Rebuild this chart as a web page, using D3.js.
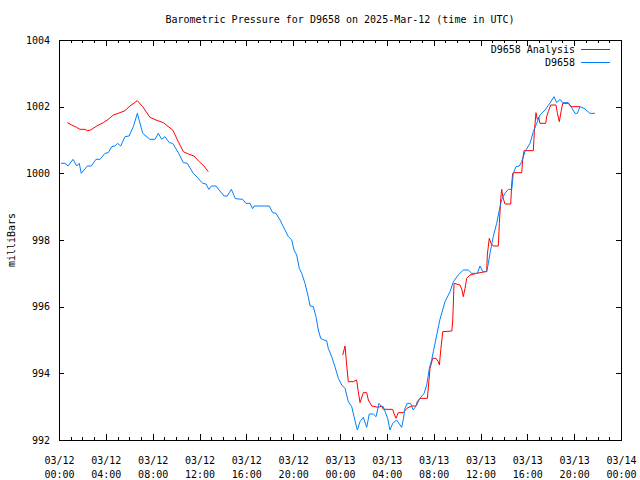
<!DOCTYPE html>
<html><head><meta charset="utf-8">
<script src="https://cdn.jsdelivr.net/npm/d3@7"></script>
<style>
body{margin:0;background:#fff;}
svg text{font-family:"DejaVu Sans Mono","Liberation Mono",monospace;font-size:10px;fill:#000;}
</style></head>
<body><svg id="c" width="640" height="480"></svg>
<script>
const titleText = "Barometric Pressure for D9658 on 2025-Mar-12 (time in UTC)";
const yLabel = "milliBars";
const yTicks = [992, 994, 996, 998, 1000, 1002, 1004];
const seriesNames = ["D9658 Analysis", "D9658"];
const seriesColors = ["#ff0000", "#0080ff"];

// hours after 2025-03-12 00:00 UTC
const obsHours = [0.17,0.51,0.77,1.20,1.51,1.73,1.90,2.42,2.76,3.16,3.50,3.93,4.21,4.50,4.78,5.01,5.27,5.64,5.98,6.35,6.69,6.92,7.15,7.77,8.20,8.48,8.77,9.05,9.42,9.71,10.19,10.62,10.96,11.47,11.81,12.27,12.56,12.79,13.01,13.41,14.09,14.37,14.72,15.06,15.69,15.97,16.31,16.54,16.66,17.96,18.25,18.53,18.88,19.30,19.59,19.88,20.07,20.30,20.52,20.73,21.01,21.29,21.44,21.72,21.95,22.15,22.35,22.63,22.86,23.00,23.29,23.57,23.86,24.15,24.43,24.71,25.00,25.20,25.48,25.71,25.99,26.28,26.50,26.84,27.08,27.33,27.56,27.70,27.93,28.07,28.27,28.50,28.84,29.27,29.41,29.55,29.74,30.03,30.25,30.55,30.83,31.18,31.41,31.63,31.83,31.97,32.26,32.54,32.97,33.40,33.68,34.10,34.53,34.96,35.25,35.73,35.96,36.19,36.53,36.67,36.81,37.09,37.38,37.61,37.81,38.09,38.38,38.67,38.80,39.03,39.32,39.52,39.80,40.23,40.51,40.80,41.08,41.51,41.88,42.28,42.51,42.79,43.02,43.50,43.71,44.07,44.27,44.50,44.84,45.35,45.78];
const obsPressure = [1000.30,1000.30,1000.22,1000.42,1000.22,1000.30,1000.00,1000.22,1000.22,1000.42,1000.42,1000.60,1000.62,1000.80,1000.82,1000.90,1000.82,1001.10,1001.12,1001.40,1001.80,1001.50,1001.20,1001.02,1001.02,1001.20,1001.02,1001.10,1000.92,1000.90,1000.62,1000.32,1000.30,1000.00,999.88,999.70,999.68,999.52,999.62,999.62,999.32,999.32,999.52,999.24,999.22,999.10,999.10,998.94,999.02,999.02,998.82,998.80,998.60,998.30,998.10,998.00,997.70,997.55,997.15,997.00,996.70,996.30,996.02,996.00,995.70,995.30,995.05,995.00,994.98,994.75,994.50,994.20,993.85,993.65,993.55,993.15,993.00,992.70,992.30,992.55,992.68,992.38,992.78,992.78,992.70,993.10,993.00,993.00,992.78,992.65,992.30,992.50,992.60,992.38,992.62,992.95,993.10,993.10,992.90,993.05,993.25,993.40,993.65,994.15,994.40,994.65,995.15,995.62,996.15,996.45,996.75,996.95,997.10,997.10,997.00,997.00,997.22,997.05,997.05,997.30,997.60,998.10,998.50,998.90,999.22,999.40,999.52,999.52,1000.00,1000.20,1000.22,1000.35,1000.65,1000.90,1001.25,1001.50,1001.75,1001.90,1002.08,1002.30,1002.12,1002.22,1002.12,1002.12,1002.02,1001.80,1001.80,1002.00,1001.95,1001.80,1001.80];

// analysis: two separate segments
const anaHours1 = [0.71,1.08,1.51,1.79,2.22,2.42,2.71,3.22,3.78,4.21,4.64,5.06,5.64,6.06,6.69,7.15,7.77,8.28,8.91,9.71,10.19,10.62,11.04,11.53,11.98,12.38,12.75];
const anaPressure1 = [1001.52,1001.45,1001.38,1001.32,1001.32,1001.28,1001.30,1001.42,1001.52,1001.62,1001.75,1001.80,1001.88,1002.02,1002.18,1002.00,1001.68,1001.60,1001.52,1001.30,1000.95,1000.65,1000.58,1000.52,1000.35,1000.22,1000.05];
const anaHours2 = [24.23,24.43,24.57,24.71,25.13,25.42,25.56,25.71,25.99,26.28,26.42,26.71,27.27,27.56,27.70,28.50,28.61,28.78,28.98,29.41,29.70,30.12,30.49,30.60,30.83,31.46,31.58,31.69,31.92,32.20,32.40,32.49,32.61,32.78,33.55,33.63,33.74,34.25,34.42,34.53,34.68,34.82,35.10,35.68,35.96,36.41,36.53,36.58,36.75,36.90,37.09,37.52,37.61,37.73,37.81,37.90,38.09,38.58,38.67,38.75,38.86,39.52,39.60,39.72,40.51,40.60,40.74,40.85,40.97,41.08,41.57,41.65,41.79,42.00,42.45,42.56,42.73,42.88,43.02,43.50,43.71,44.50];
const anaPressure2 = [994.55,994.82,994.25,993.75,993.75,993.80,993.45,993.12,993.42,993.42,993.20,993.02,992.98,993.02,992.92,992.92,992.80,992.65,992.82,992.82,992.95,993.02,993.02,993.15,993.25,993.25,993.72,994.15,994.45,994.45,994.35,994.25,994.72,995.25,995.27,995.60,996.70,996.65,996.50,996.30,996.55,996.85,996.95,997.00,997.02,997.05,997.05,997.55,998.05,997.90,997.82,997.82,998.50,999.25,999.52,999.30,999.08,999.08,999.70,1000.00,1000.02,1000.02,1000.40,1000.68,1000.68,1001.25,1001.82,1001.62,1001.68,1001.50,1001.50,1001.70,1001.85,1002.05,1002.05,1001.82,1001.55,1001.85,1002.10,1002.10,1002.00,1002.00];

const t0 = Date.UTC(2025, 2, 12, 0, 0);
const toDate = h => new Date(t0 + h * 3600000);

const svg = d3.select("#c");
const L = 59, R = 621, T = 40, B = 440;

const x = d3.scaleUtc().domain([toDate(0), toDate(48)]).range([L, R]);
const y = d3.scaleLinear().domain([992, 1004]).range([B, T]);

const majorTicks = d3.utcHour.every(4).range(toDate(0), toDate(48.01));
const minorTicks = d3.utcHour.every(1).range(toDate(0), toDate(48.01));

svg.append("g").attr("transform", `translate(0,${B})`)
  .call(d3.axisBottom(x).tickValues(minorTicks).tickSize(-3).tickFormat(""))
  .call(g => g.select(".domain").remove());
svg.append("g").attr("transform", `translate(0,${T})`)
  .call(d3.axisTop(x).tickValues(minorTicks).tickSize(-3).tickFormat(""))
  .call(g => g.select(".domain").remove());
const fmtD = d3.utcFormat("%m/%d"), fmtT = d3.utcFormat("%H:%M");
const xb = svg.append("g").attr("transform", `translate(0,${B})`)
  .call(d3.axisBottom(x).tickValues(majorTicks).tickSize(-6).tickPadding(14).tickFormat(""))
  .call(g => g.select(".domain").remove());
xb.selectAll(".tick text").each(function(d){
  const t = d3.select(this).attr("y", null).attr("dy", null);
  t.append("tspan").attr("x", 0).attr("y", 24).text(fmtD(d));
  t.append("tspan").attr("x", 0).attr("y", 38).text(fmtT(d));
});
svg.append("g").attr("transform", `translate(0,${T})`)
  .call(d3.axisTop(x).tickValues(majorTicks).tickSize(-6).tickFormat(""))
  .call(g => g.select(".domain").remove());

svg.append("g").attr("transform", `translate(${L},0)`)
  .call(d3.axisLeft(y).tickValues(yTicks).tickSize(-5).tickPadding(9).tickFormat(d3.format("d")))
  .call(g => g.select(".domain").remove());
svg.append("g").attr("transform", `translate(${R},0)`)
  .call(d3.axisRight(y).tickValues(yTicks).tickSize(-5).tickFormat(""))
  .call(g => g.select(".domain").remove());

svg.selectAll(".tick line").attr("stroke", "#000").attr("shape-rendering", "crispEdges");
svg.selectAll(".tick text").style("font-family", '"DejaVu Sans Mono","Liberation Mono",monospace').style("font-size", "10px").attr("fill", "#000");

svg.append("rect").attr("x", L).attr("y", T).attr("width", R - L).attr("height", B - T)
  .attr("fill", "none").attr("stroke", "#000").attr("shape-rendering", "crispEdges");

svg.append("text").attr("x", (L + R) / 2).attr("y", 23).attr("text-anchor", "middle").text(titleText);
svg.append("text").attr("transform", `translate(15,${(T + B) / 2}) rotate(-90)`)
  .attr("text-anchor", "middle").text(yLabel);

const line = d3.line().x(d => x(toDate(d[0]))).y(d => y(d[1]));
const zipP = (a, b) => a.map((h, i) => [h, b[i]]);

const plotG = svg.append("g");
[zipP(anaHours1, anaPressure1), zipP(anaHours2, anaPressure2)].forEach(seg => {
  plotG.append("path").datum(seg).attr("d", line).attr("fill", "none")
    .attr("stroke", seriesColors[0]).attr("stroke-width", 1);
});
plotG.append("path").datum(zipP(obsHours, obsPressure)).attr("d", line).attr("fill", "none")
  .attr("stroke", seriesColors[1]).attr("stroke-width", 1);

seriesNames.forEach((n, i) => {
  const ly = 49 + i * 13;
  svg.append("text").attr("x", 575).attr("y", ly).attr("dy", "0.35em").attr("text-anchor", "end").text(n);
  svg.append("line").attr("x1", 581).attr("x2", 610).attr("y1", ly + 0.5).attr("y2", ly + 0.5)
    .attr("stroke", seriesColors[i]).attr("stroke-width", 1);
});
</script></body></html>
